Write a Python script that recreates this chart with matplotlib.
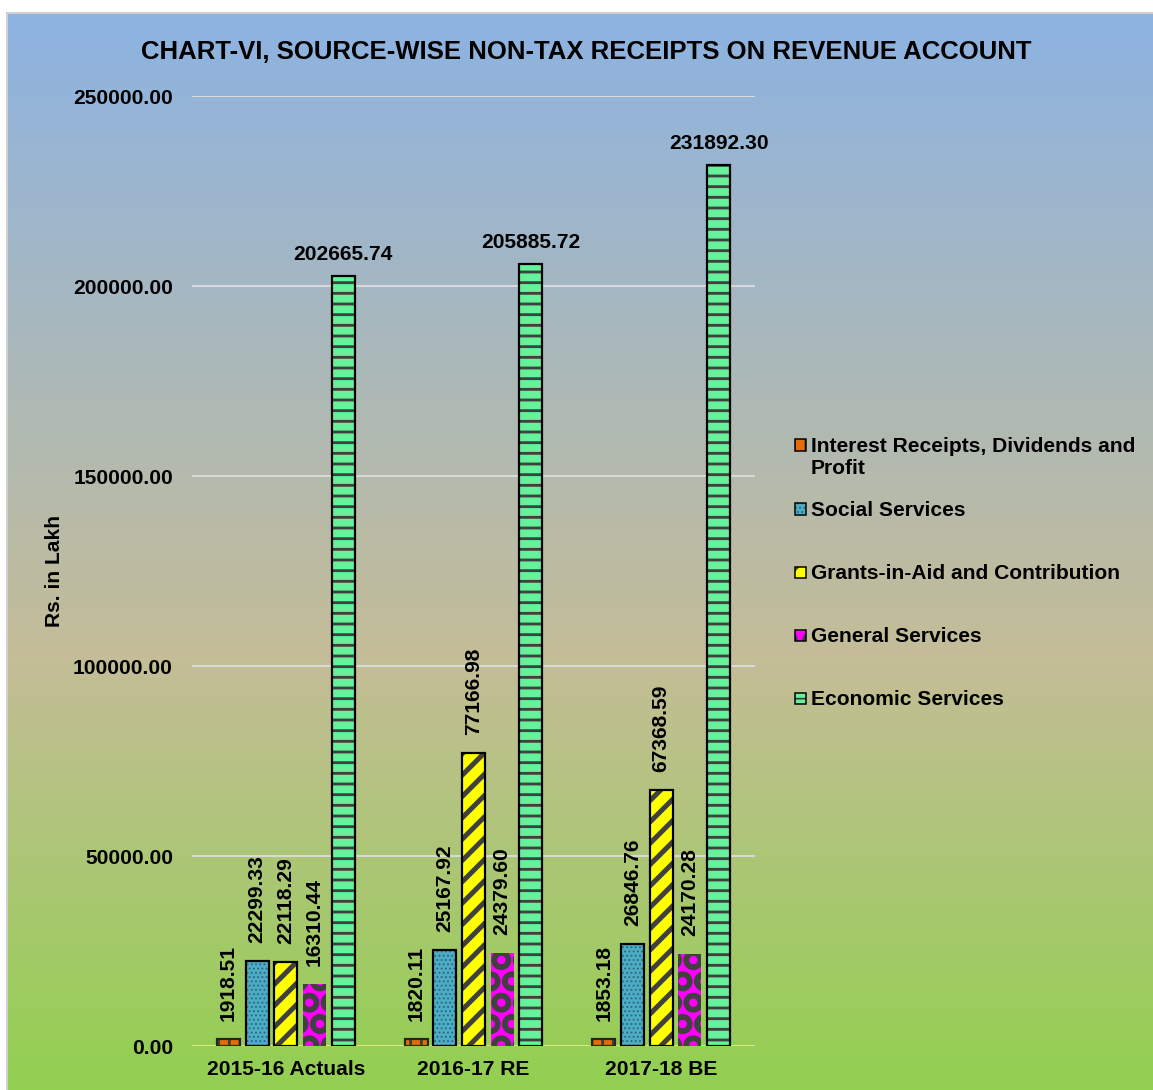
import numpy as np
import matplotlib.pyplot as plt
from matplotlib.colors import LinearSegmentedColormap
from matplotlib.patches import Rectangle
from matplotlib.lines import Line2D

# figure is 1153 x 1090 px
DPI = 128
W, H = 1153, 1090

years = ["2015-16 Actuals", "2016-17 RE", "2017-18 BE"]
series_names = ["Interest Receipts, Dividends and\nProfit", "Social Services",
                "Grants-in-Aid and Contribution", "General Services", "Economic Services"]
interest = [1918.51, 1820.11, 1853.18]
social = [22299.33, 25167.92, 26846.76]
grants = [22118.29, 77166.98, 67368.59]
general = [16310.44, 24379.60, 24170.28]
economic = [202665.74, 205885.72, 231892.30]
y_ticks = [0, 50000, 100000, 150000, 200000, 250000]

# face colour, hatch, hatch colour, hatch linewidth (pt), outline colour
styles = [
    ("#e46c0a", "||", "#404040", 1.6, "#262626"),
    ("#4bacc6", ".....", "#2f6473", 0.6, "black"),
    ("#ffff00", "//", "#404040", 2.8, "black"),
    ("#ff00ff", "O", "#404040", 2.8, None),
    ("#66f29a", "--", "#404040", 1.6, "black"),
]


def px(p):
    # pixels -> points
    return p * 72 / DPI


plt.rcParams['font.family'] = ['Liberation Sans', 'DejaVu Sans']
plt.rcParams['font.weight'] = 'bold'

fig = plt.figure(figsize=(W / DPI, H / DPI), dpi=DPI)
fig.patch.set_facecolor("white")

# gradient background panel
bg = fig.add_axes([7 / W, 0, 1 - 7 / W, 1 - 13 / H], zorder=-5)
cmap = LinearSegmentedColormap.from_list(
    "bg", [(0.0, "#8db3e2"), (0.6, "#c4bd97"), (1.0, "#92d050")])
grad = np.linspace(0, 1, 256).reshape(-1, 1)
bg.imshow(grad, aspect="auto", cmap=cmap, extent=[0, 1, 0, 1], origin="upper")
bg.set_xlim(0, 1)
bg.set_ylim(0, 1)
bg.axis("off")
fig.add_artist(Line2D([6.5 / W, 6.5 / W], [0, 1 - 12.5 / H], transform=fig.transFigure,
                      color="#d0d0d0", lw=px(2)))
fig.add_artist(Line2D([6.5 / W, 1], [1 - 12.5 / H, 1 - 12.5 / H], transform=fig.transFigure,
                      color="#d0d0d0", lw=px(2)))

ax = fig.add_axes([192 / W, 1 - 1046 / H, 563 / W, 950 / H])
ax.patch.set_alpha(0)
for s in ax.spines.values():
    s.set_visible(False)

x = np.arange(len(years))
width = 0.123
step = 0.153
all_vals = [interest, social, grants, general, economic]
for i, (vals, st) in enumerate(zip(all_vals, styles)):
    fc, hatch, hc, hlw, ec = st
    pos = x + (i - 2) * step
    with plt.rc_context({'hatch.linewidth': hlw}):
        bars = ax.bar(pos, vals, width, color=fc, hatch=hatch, edgecolor=hc,
                      linewidth=0, zorder=3)
    for b in bars:
        if hasattr(b, "set_hatch_linewidth"):
            b.set_hatch_linewidth(hlw)
    if ec is not None:
        ax.bar(pos, vals, width, fill=False, edgecolor=ec, linewidth=px(2.2), zorder=4)
    # value labels
    for xp, v in zip(pos, vals):
        if i < 4:
            ax.annotate(f"{v:.2f}", (xp, v), xytext=(0, px(18)), textcoords="offset points",
                        rotation=90, ha="center", va="bottom", fontsize=px(21),
                        fontweight="bold")
        else:
            ax.annotate(f"{v:.2f}", (xp, v), xytext=(0, px(12)), textcoords="offset points",
                        ha="center", va="bottom", fontsize=px(21), fontweight="bold")

ax.set_xlim(-0.5, 2.5)
ax.set_ylim(0, 250000)
ax.set_yticks(y_ticks)
ax.set_yticklabels([f"{t:.2f}" for t in y_ticks])
ax.set_xticks(x)
ax.set_xticklabels(years)
ax.tick_params(axis="both", length=0, labelsize=px(21))
ax.tick_params(axis="y", pad=px(19))
ax.tick_params(axis="x", pad=px(14))
ax.yaxis.grid(True, color="#d9d9d9", lw=px(2), zorder=0)
ax.set_axisbelow(True)

fig.text(55 / W, 1 - 571 / H, "Rs. in Lakh", rotation=90, ha="center", va="center",
         fontsize=px(21), fontweight="bold")
fig.text(586 / W, 1 - 52 / H, "CHART-VI, SOURCE-WISE NON-TAX RECEIPTS ON REVENUE ACCOUNT",
         ha="center", va="center", fontsize=px(25.7), fontweight="bold")

# legend entries
leg_y = [445, 509, 572, 635, 698]
for name, st, yy in zip(series_names, styles, leg_y):
    fc, hatch, hc, hlw, ec = st
    with plt.rc_context({'hatch.linewidth': min(hlw, 1.0)}):
        r = Rectangle((795 / W, 1 - (yy + 5.5) / H), 11 / W, 11 / H, transform=fig.transFigure,
                      facecolor=fc, hatch=hatch, edgecolor=hc, linewidth=0)
    fig.add_artist(r)
    fig.add_artist(Rectangle((795 / W, 1 - (yy + 5.5) / H), 11 / W, 11 / H,
                             transform=fig.transFigure, fill=False,
                             edgecolor="black", linewidth=px(1.5)))
    fig.text(811 / W, 1 - (yy - 8) / H, name, ha="left", va="top", fontsize=px(21),
             fontweight="bold", linespacing=1.22)

fig.savefig("out.png", dpi=DPI)
